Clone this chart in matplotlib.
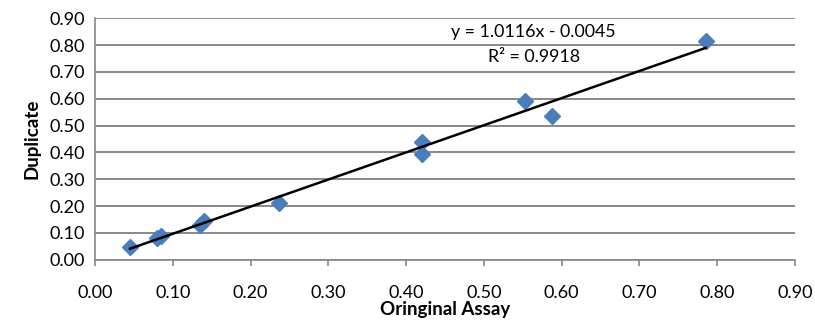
import numpy as np
import matplotlib
matplotlib.use("Agg")
import matplotlib.pyplot as plt

# duplicate assay check
original = [0.045, 0.080, 0.085, 0.135, 0.140, 0.236, 0.420, 0.420, 0.553, 0.588, 0.785]
duplicate = [0.047, 0.082, 0.090, 0.128, 0.145, 0.213, 0.395, 0.437, 0.590, 0.537, 0.814]
slope = 1.0116
intercept = -0.0045
r2 = 0.9918

ticks = np.arange(0, 0.91, 0.1)

plt.rcParams['font.family'] = ['Lato', 'DejaVu Sans']

fig = plt.figure(figsize=(8.15, 3.24), dpi=100)
ax = fig.add_axes([0.1166, 0.1985, 0.8589, 0.745])

ax.set_xlim(0, 0.9)
ax.set_ylim(0, 0.9)
ax.set_xticks(ticks)
ax.set_yticks(ticks)
ax.set_xticklabels(['%.2f' % t for t in ticks], fontsize=13)
ax.set_yticklabels(['%.2f' % t for t in ticks], fontsize=13)

ax.grid(True, axis='y', color='#888888', linewidth=1.4)
ax.set_axisbelow(True)
for s in ['top', 'right']:
    ax.spines[s].set_visible(False)
ax.spines['left'].set_color('#888888')
ax.spines['bottom'].set_color('#888888')
ax.spines['left'].set_linewidth(1.2)
ax.spines['bottom'].set_linewidth(1.2)
ax.tick_params(axis='x', length=4, color='#888888', width=1.2, pad=14)
ax.tick_params(axis='y', length=0, pad=7)

ax.plot(original, duplicate, 'D', color='#4a7ebb', markersize=7.8,
        markeredgecolor='#4a7ebb', zorder=3)

xs = np.array([min(original), max(original)])
ax.plot(xs, slope * xs + intercept, color='black', linewidth=1.8, zorder=4)

ax.text(0.564, 0.848, 'y = %.4fx - %.4f' % (slope, -intercept), ha='center', va='center', fontsize=12.8)
ax.text(0.564, 0.754, 'R\u00b2 = %.4f' % r2, ha='center', va='center', fontsize=12.8)

ax.set_xlabel('Oringinal Assay', fontsize=13.5, fontweight='bold', labelpad=0)
ax.set_ylabel('Duplicate', fontsize=13.5, fontweight='bold', labelpad=7)

fig.savefig('out.png', dpi=100)
